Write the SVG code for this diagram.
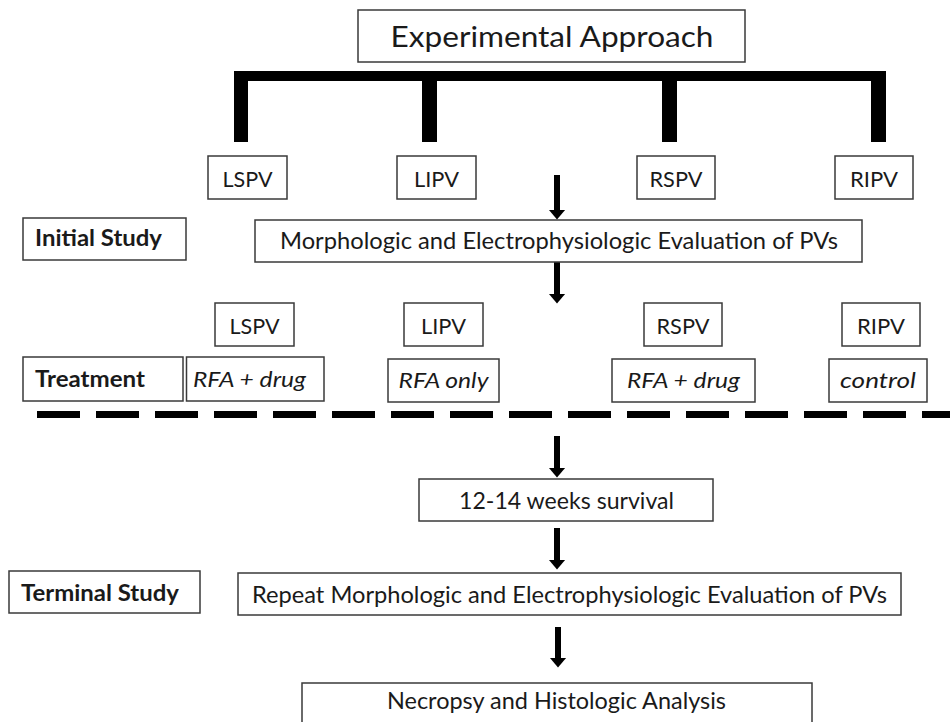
<svg xmlns="http://www.w3.org/2000/svg" width="950" height="722" viewBox="0 0 950 722">
<style>
  .box { fill: #ffffff; stroke: #3a3a3a; stroke-width: 1.5; }
  .t { font-family: Lato, "Liberation Sans", sans-serif; fill: #1a1a1a; }
  .m { text-anchor: middle; }
  .b { font-weight: bold; }
  .i { font-style: italic; }
  .arr { stroke: #000; stroke-width: 6; fill: none; }
</style>
<defs>
  <marker id="ah" markerUnits="userSpaceOnUse" viewBox="0 0 10 17" refX="0.5" refY="8.5" markerWidth="10" markerHeight="17" orient="auto">
    <path d="M0,0 L10,8.5 L0,17 Z" fill="#000"/>
  </marker>
</defs>
<rect width="950" height="722" fill="#ffffff"/>

<g id="connectors">
  <path id="bracket" d="M234,71 H886 V142 H871 V81 H677 V142 H662 V81 H437 V142 H422 V81 H248 V142 H234 Z" fill="#000"/>
  <line class="arr" x1="557" y1="175" x2="557" y2="210" marker-end="url(#ah)"/>
  <line class="arr" x1="557" y1="262" x2="557" y2="294" marker-end="url(#ah)"/>
  <line class="arr" x1="557" y1="436" x2="557" y2="468" marker-end="url(#ah)"/>
  <line class="arr" x1="557" y1="528" x2="557" y2="560" marker-end="url(#ah)"/>
  <line class="arr" x1="558" y1="627" x2="558" y2="658" marker-end="url(#ah)"/>
  <line id="divider" x1="37" y1="414.5" x2="950" y2="414.5" stroke="#000" stroke-width="7" stroke-dasharray="43 16"/>
</g>

<g id="experimental-approach">
  <rect class="box" x="358" y="10" width="387" height="52"/>
  <text class="t m" x="552" y="47" font-size="29" textLength="323" lengthAdjust="spacingAndGlyphs">Experimental Approach</text>
</g>

<g id="lspv-1"><rect class="box" x="208" y="156" width="79" height="43"/><text class="t m" x="247.5" y="187" font-size="22" textLength="50" lengthAdjust="spacingAndGlyphs">LSPV</text></g>
<g id="lipv-1"><rect class="box" x="397" y="156" width="79" height="43"/><text class="t m" x="436.5" y="187" font-size="22" textLength="45" lengthAdjust="spacingAndGlyphs">LIPV</text></g>
<g id="rspv-1"><rect class="box" x="637" y="156" width="78" height="43"/><text class="t m" x="676" y="187" font-size="22" textLength="53" lengthAdjust="spacingAndGlyphs">RSPV</text></g>
<g id="ripv-1"><rect class="box" x="835" y="156" width="78" height="43"/><text class="t m" x="874" y="187" font-size="22" textLength="48" lengthAdjust="spacingAndGlyphs">RIPV</text></g>

<g id="initial-study">
  <rect class="box" x="23" y="218" width="163" height="42"/>
  <text class="t b" x="35" y="246" font-size="22" textLength="127" lengthAdjust="spacingAndGlyphs">Initial Study</text>
</g>
<g id="evaluation">
  <rect class="box" x="255" y="220" width="607" height="42"/>
  <text class="t" x="280" y="249" font-size="23" textLength="558" lengthAdjust="spacingAndGlyphs">Morphologic and Electrophysiologic Evaluation of PVs</text>
</g>

<g id="lspv-2"><rect class="box" x="215" y="303" width="79" height="43"/><text class="t m" x="254.5" y="334" font-size="22" textLength="50" lengthAdjust="spacingAndGlyphs">LSPV</text></g>
<g id="lipv-2"><rect class="box" x="404" y="303" width="79" height="43"/><text class="t m" x="443.5" y="334" font-size="22" textLength="45" lengthAdjust="spacingAndGlyphs">LIPV</text></g>
<g id="rspv-2"><rect class="box" x="644" y="303" width="78" height="43"/><text class="t m" x="683" y="334" font-size="22" textLength="53" lengthAdjust="spacingAndGlyphs">RSPV</text></g>
<g id="ripv-2"><rect class="box" x="842" y="303" width="78" height="43"/><text class="t m" x="881" y="334" font-size="22" textLength="48" lengthAdjust="spacingAndGlyphs">RIPV</text></g>

<g id="treatment">
  <rect class="box" x="23" y="357" width="160" height="44"/>
  <text class="t b" x="35" y="387" font-size="22" textLength="110" lengthAdjust="spacingAndGlyphs">Treatment</text>
</g>
<g id="lspv-treatment">
  <rect class="box" x="186.5" y="357" width="137.5" height="44"/>
  <text class="t i" x="193" y="387" font-size="22" textLength="113" lengthAdjust="spacingAndGlyphs">RFA + drug</text>
</g>
<g id="lipv-treatment">
  <rect class="box" x="388" y="359" width="111" height="43"/>
  <text class="t i m" x="443.5" y="388" font-size="22" textLength="90" lengthAdjust="spacingAndGlyphs">RFA only</text>
</g>
<g id="rspv-treatment">
  <rect class="box" x="612" y="359" width="143" height="43"/>
  <text class="t i m" x="683.5" y="388" font-size="22" textLength="113" lengthAdjust="spacingAndGlyphs">RFA + drug</text>
</g>
<g id="ripv-treatment">
  <rect class="box" x="829" y="359" width="98" height="43"/>
  <text class="t i m" x="878" y="388" font-size="22" textLength="76" lengthAdjust="spacingAndGlyphs">control</text>
</g>

<g id="survival">
  <rect class="box" x="419" y="479" width="294" height="42"/>
  <text class="t" x="459" y="509" font-size="23" textLength="215" lengthAdjust="spacingAndGlyphs">12-14 weeks survival</text>
</g>
<g id="terminal-study">
  <rect class="box" x="9" y="571" width="191" height="42"/>
  <text class="t b" x="21" y="601" font-size="22" textLength="158" lengthAdjust="spacingAndGlyphs">Terminal Study</text>
</g>
<g id="repeat-evaluation">
  <rect class="box" x="238" y="573" width="663" height="42"/>
  <text class="t" x="252" y="603" font-size="23" textLength="635" lengthAdjust="spacingAndGlyphs">Repeat Morphologic and Electrophysiologic Evaluation of PVs</text>
</g>
<g id="necropsy">
  <rect class="box" x="302" y="683" width="510" height="60"/>
  <text class="t" x="387" y="709" font-size="23" textLength="339" lengthAdjust="spacingAndGlyphs">Necropsy and Histologic Analysis</text>
</g>
</svg>
